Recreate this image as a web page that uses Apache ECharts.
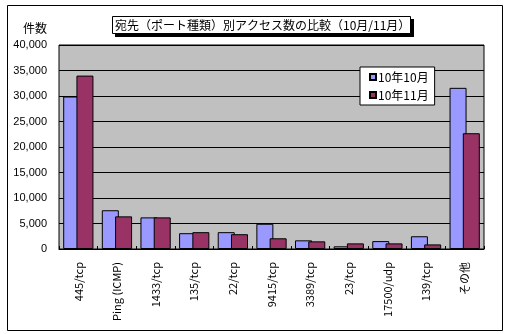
<!DOCTYPE html>
<html>
<head>
<meta charset="utf-8">
<script src="https://cdn.jsdelivr.net/npm/echarts@6/dist/echarts.min.js"></script>
<style>
  html, body { margin: 0; padding: 0; background: #fff; }
  #chart { width: 511px; height: 334px; }
</style>
</head>
<body>
<div id="chart"></div>
<script>
// Access counts per destination port, October vs November
const categories = ['445/tcp', 'Ping (ICMP)', '1433/tcp', '135/tcp', '22/tcp', '9415/tcp',
                    '3389/tcp', '23/tcp', '17500/udp', '139/tcp', 'その他'];
const seriesNames = ['10年10月', '10年11月'];
const octValues = [29900, 7600, 6200, 3100, 3300, 4950, 1700, 530, 1550, 2500, 31600];
const novValues = [34000, 6400, 6200, 3300, 2900, 2100, 1500, 1100, 1100, 900, 22700];
const yTicks = { min: 0, max: 40000, interval: 5000 };
const titleText = '宛先（ポート種類）別アクセス数の比較（10月/11月）';
const yAxisName = '件数';

const fontJP = '"Noto Sans CJK JP", sans-serif';
const fontNum = '"Liberation Sans", Arial, sans-serif';

const chart = echarts.init(document.getElementById('chart'), null, { renderer: 'canvas' });

chart.setOption({
  animation: false,
  backgroundColor: '#ffffff',
  grid: {
    left: 59, top: 45, right: 27, bottom: 85,
    show: true,
    backgroundColor: '#c0c0c0',
    borderColor: '#000',
    borderWidth: 1
  },
  legend: {
    orient: 'vertical',
    left: 360, top: 67,
    data: seriesNames,
    backgroundColor: '#fff',
    borderColor: '#000',
    borderWidth: 1,
    borderRadius: 0,
    padding: [4, 6, 4, 9],
    itemGap: 6,
    itemWidth: 6,
    itemHeight: 6,
    icon: 'rect',
    textStyle: { fontFamily: fontJP, fontSize: 12, color: '#000', padding: [0, 0, 0, -3] }
  },
  xAxis: {
    type: 'category',
    data: categories,
    axisLine: { lineStyle: { color: '#000', width: 1 } },
    axisTick: { show: true, inside: true, length: 3, lineStyle: { color: '#000' } },
    axisLabel: {
      rotate: 90,
      margin: 13,
      interval: 0,
      color: '#000',
      fontSize: 11,
      fontFamily: fontJP
    }
  },
  yAxis: {
    type: 'value',
    min: yTicks.min,
    max: yTicks.max,
    interval: yTicks.interval,
    axisLine: { show: false },
    axisTick: { show: false },
    splitLine: { show: true, lineStyle: { color: '#000', width: 1 } },
    axisLabel: {
      margin: 12,
      color: '#000',
      fontSize: 11,
      fontFamily: fontNum,
      formatter: v => v.toLocaleString('en-US')
    }
  },
  series: [
    {
      name: seriesNames[0],
      type: 'bar',
      data: octValues,
      barWidth: 17,
      barGap: '-22%',
      itemStyle: { color: '#9999ff', borderColor: '#000', borderWidth: 1 }
    },
    {
      name: seriesNames[1],
      type: 'bar',
      data: novValues,
      barWidth: 17,
      itemStyle: { color: '#993366', borderColor: '#000', borderWidth: 1 }
    }
  ],
  graphic: [
    // outer chart frame
    { type: 'rect', shape: { x: 7.5, y: 5.5, width: 495, height: 325 },
      style: { fill: null, stroke: '#000', lineWidth: 1 }, z: -1 },
    // title box with drop shadow
    { type: 'rect', shape: { x: 115, y: 19, width: 299, height: 18 },
      style: { fill: '#000' }, z: 10 },
    { type: 'rect', shape: { x: 112.5, y: 16.5, width: 298, height: 17 },
      style: { fill: '#fff', stroke: '#000', lineWidth: 1 }, z: 11 },
    { type: 'text', x: 115, y: 25, z: 12,
      style: { text: titleText, fill: '#000', font: '12px ' + fontJP, textVerticalAlign: 'middle' } },
    // y axis unit
    { type: 'text', x: 23, y: 28, z: 12,
      style: { text: yAxisName, fill: '#000', font: '12px ' + fontJP, textVerticalAlign: 'middle' } }
  ]
});
</script>
</body>
</html>
